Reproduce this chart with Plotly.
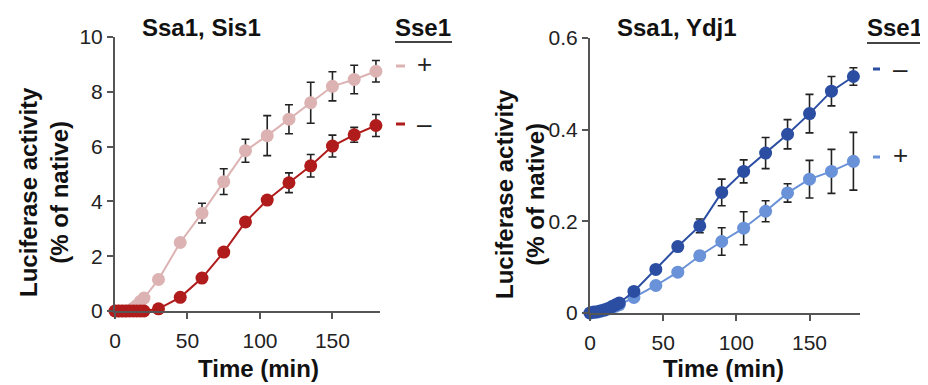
import plotly.graph_objects as go

# Page body has a default 8px margin; the figure is sized so that it fills the window.
OFF = 8
W, H = 928 - OFF, 385 - OFF

# ---------------- data ----------------
time_min = [0, 2.5, 5, 7.5, 10, 12.5, 15, 17.5, 20, 30, 45, 60, 75, 90, 105, 120, 135, 150, 165, 180]

# Left panel: Ssa1, Sis1
sis1_plus = [0, 0, 0, 0, 0.02, 0.1, 0.2, 0.35, 0.47, 1.15, 2.5, 3.57, 4.72, 5.85, 6.4, 7.0, 7.6, 8.2, 8.45, 8.75]
sis1_plus_err = [0, 0, 0, 0, 0, 0, 0, 0, 0, 0, 0, 0.36, 0.47, 0.42, 0.73, 0.53, 0.75, 0.53, 0.52, 0.39]
sis1_minus = [0, 0, 0, 0, 0, 0, 0, 0, 0, 0.08, 0.5, 1.2, 2.15, 3.25, 4.05, 4.68, 5.3, 6.02, 6.43, 6.77]
sis1_minus_err = [0, 0, 0, 0, 0, 0, 0, 0, 0, 0, 0, 0, 0, 0.12, 0, 0.36, 0.41, 0.4, 0.27, 0.4]

# Right panel: Ssa1, Ydj1
ydj1_minus = [0, 0.002, 0.003, 0.005, 0.007, 0.010, 0.014, 0.018, 0.022, 0.047, 0.095, 0.145, 0.19, 0.263, 0.309, 0.349, 0.39, 0.435, 0.484, 0.516]
ydj1_minus_err = [0, 0, 0, 0, 0, 0, 0, 0, 0, 0, 0, 0, 0.015, 0.029, 0.025, 0.034, 0.032, 0.042, 0.032, 0.019]
ydj1_plus = [0, 0.001, 0.002, 0.004, 0.006, 0.009, 0.012, 0.015, 0.018, 0.034, 0.06, 0.089, 0.125, 0.156, 0.185, 0.222, 0.262, 0.292, 0.309, 0.331]
ydj1_plus_err = [0, 0, 0, 0, 0, 0, 0, 0, 0, 0, 0, 0, 0, 0.03, 0.036, 0.023, 0.02, 0.041, 0.048, 0.063]

left_yticks = [0, 2, 4, 6, 8, 10]
right_yticks = [0, 0.2, 0.4, 0.6]
right_yticklabels = ["0", "0.2", "0.4", "0.6"]
xticks = [0, 50, 100, 150]

PINK = "#dcb2b2"
DARKRED = "#b01b1b"
DARKBLUE = "#2b4ea3"
LIGHTBLUE = "#6a92d8"
FONT = "Liberation Sans, Arial, sans-serif"
AXC = "#555555"


def px(x):
    return (x - OFF) / W


def py(y):
    return 1 - (y - OFF) / H


fig = go.Figure()


def add_series(x, y, err, color, xa, ya, name):
    fig.add_trace(go.Scatter(
        x=x, y=y, name=name, mode="lines+markers",
        line=dict(color=color, width=2),
        marker=dict(color=color, size=13),
        error_y=dict(type="data", array=err, visible=True, color="#222222", thickness=1.6, width=4),
        xaxis=xa, yaxis=ya, cliponaxis=False, showlegend=False,
    ))


add_series(time_min, sis1_plus, sis1_plus_err, PINK, "x", "y", "Sse1 +")
add_series(time_min, sis1_minus, sis1_minus_err, DARKRED, "x", "y", "Sse1 −")
add_series(time_min, ydj1_plus, ydj1_plus_err, LIGHTBLUE, "x2", "y2", "Sse1 +")
add_series(time_min, ydj1_minus, ydj1_minus_err, DARKBLUE, "x2", "y2", "Sse1 −")

axis_common = dict(
    showgrid=False, zeroline=False, showline=True, linecolor=AXC, linewidth=2,
    ticks="outside", ticklen=6, tickwidth=2, tickcolor=AXC, automargin=False,
    tickfont=dict(family=FONT, size=21, color="#222222"),
)

fig.update_layout(
    width=W, height=H,
    margin=dict(l=0, r=0, t=0, b=0, autoexpand=False),
    paper_bgcolor="white", plot_bgcolor="white",
    xaxis=dict(domain=[px(115), px(380)], range=[0, 182.8], tickvals=xticks,
               anchor="y", ticklabelstandoff=4, **axis_common),
    yaxis=dict(domain=[py(311), py(37)], range=[0, 10], tickvals=left_yticks,
               anchor="x", **axis_common),
    xaxis2=dict(domain=[px(590), px(860)], range=[0, 184.5], tickvals=xticks,
                anchor="y2", ticklabelstandoff=4, **axis_common),
    yaxis2=dict(domain=[py(313), py(38)], range=[0, 0.6], tickvals=right_yticks,
                ticktext=right_yticklabels, anchor="x2", **axis_common),
)

ann = []


def text(x, y, s, size=24, bold=True, angle=0, color="#111111"):
    ann.append(dict(x=px(x), y=py(y), xref="paper", yref="paper", text=(f"<b>{s}</b>" if bold else s),
                    showarrow=False, textangle=angle, xanchor="center", yanchor="middle",
                    font=dict(family=FONT, size=size, color=color)))


# titles
text(201, 28, "Ssa1, Sis1")
text(677, 28, "Ssa1, Ydj1")
# axis titles
text(258, 368, "Time (min)")
text(723, 368, "Time (min)")
text(44, 192, "Luciferase activity<br>(% of native)", angle=-90)
text(520, 194, "Luciferase activity<br>(% of native)", angle=-90)

# custom legends
text(423, 28, "Sse1")
text(895, 28, "Sse1")
text(424, 64, "+", bold=False, size=26, color="#222222")
text(424, 124, "–", bold=False, size=26, color="#222222")
text(900, 69, "–", bold=False, size=26, color="#222222")
text(900, 155, "+", bold=False, size=26, color="#222222")

fig.update_layout(annotations=ann)

shapes = []


def seg(x0, x1, y, color, width):
    shapes.append(dict(type="line", xref="paper", yref="paper", x0=px(x0), x1=px(x1), y0=py(y), y1=py(y),
                       line=dict(color=color, width=width)))


seg(395, 452, 42, "#444444", 2)
seg(867, 925, 43, "#444444", 2)
seg(396, 405, 66, PINK, 3)
seg(396, 405, 124, DARKRED, 3)
seg(873, 880, 69, DARKBLUE, 3)
seg(873, 880, 157, LIGHTBLUE, 3)
fig.update_layout(shapes=shapes)

fig.write_html("out.html")
